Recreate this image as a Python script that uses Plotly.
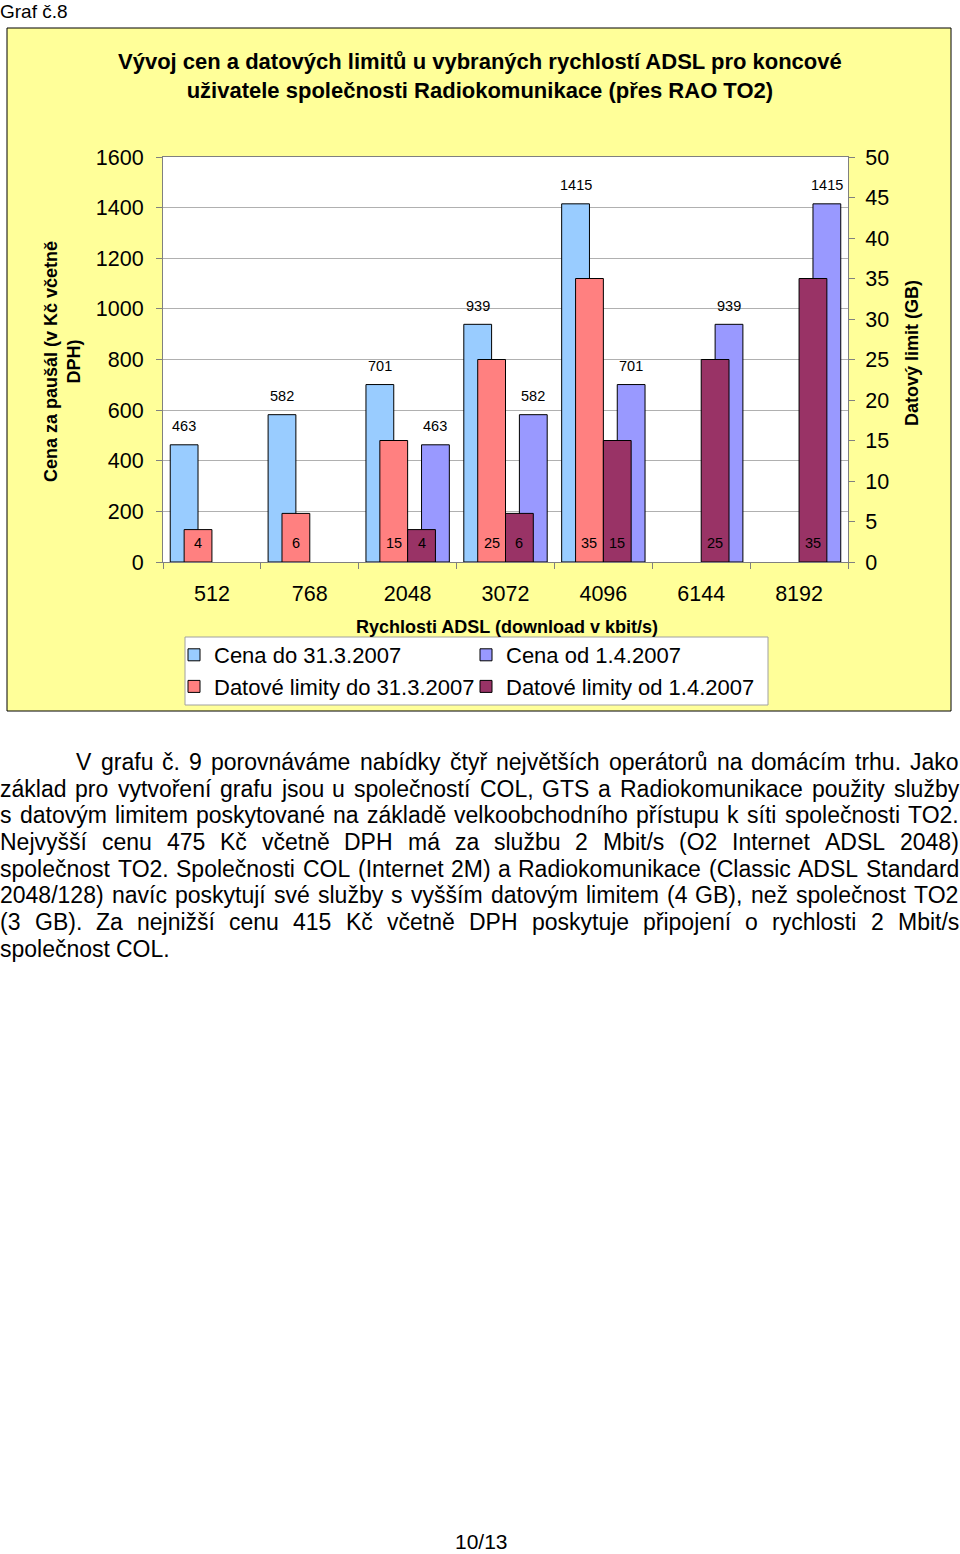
import plotly.graph_objects as go

# ---------------- data ----------------
categories = ["512", "768", "2048", "3072", "4096", "6144", "8192"]
cena_do = [463, 582, 701, 939, 1415, None, None]
cena_od = [None, None, 463, 582, 701, 939, 1415]
limity_do = [4, 6, 15, 25, 35, None, None]
limity_od = [None, None, 4, 6, 15, 25, 35]

series_names = ["Cena do 31.3.2007", "Cena od 1.4.2007",
                "Datové limity do 31.3.2007", "Datové limity od 1.4.2007"]
series_colors = ["#99CCFF", "#9999FF", "#FF8080", "#993366"]

price_range = [0, 1600]
price_dtick = 200
limit_range = [0, 50]
limit_dtick = 5

title_text = ("Vývoj cen a datových limitů u vybraných rychlostí ADSL pro koncové<br>"
              "uživatele společnosti Radiokomunikace (přes RAO TO2)")
y1_title = "Cena za paušál (v Kč včetně<br>DPH)"
y2_title = "Datový limit (GB)"
x_title = "Rychlosti ADSL (download v kbit/s)"
caption = "Graf č.8"
page_no = "10/13"
paragraph_lines = [
    "V grafu č. 9 porovnáváme nabídky čtyř největších operátorů na domácím trhu. Jako",
    "základ pro vytvoření grafu jsou u společností COL, GTS a Radiokomunikace použity služby",
    "s datovým limitem poskytované na základě velkoobchodního přístupu k síti společnosti TO2.",
    "Nejvyšší cenu 475 Kč včetně DPH má za službu 2 Mbit/s (O2 Internet ADSL 2048)",
    "společnost TO2. Společnosti COL (Internet 2M) a Radiokomunikace (Classic ADSL Standard",
    "2048/128) navíc poskytují své služby s vyšším datovým limitem (4 GB), než společnost TO2",
    "(3 GB). Za nejnižší cenu 415 Kč včetně DPH poskytuje připojení o rychlosti 2 Mbit/s",
    "společnost COL.",
]

# ---------------- layout geometry ----------------
W, H = 960, 1554
ML, MR, MT, MB = 163, 112, 157, 992
PW = W - ML - MR
PH = H - MT - MB
FONT = "Liberation Sans, Arial, sans-serif"


def px(x):
    return (x - ML) / PW


def py(y):
    return (H - MB - y) / PH


BW = 0.284
offsets = [-0.426, 0.142, -0.284, 0.0]
values = [cena_do, cena_od, limity_do, limity_od]
axes = ["y", "y", "y2", "y2"]

fig = go.Figure()
for name, vals, col, ax, off in zip(series_names, values, series_colors, axes, offsets):
    fig.add_trace(go.Bar(
        x=categories, y=vals, name=name, yaxis=ax,
        offset=off, width=BW,
        marker=dict(color=col, line=dict(color="#000000", width=1)),
        hoverinfo="skip",
    ))

annotations = []
# data labels
for k, (vals, ax, off) in enumerate(zip(values, axes, offsets)):
    for i, v in enumerate(vals):
        if v is None:
            continue
        if ax == "y":
            annotations.append(dict(x=i + off + BW / 2, y=v, xref="x", yref="y",
                                    text=str(v), showarrow=False, yanchor="middle",
                                    yshift=18.5, font=dict(size=14.5, color="black", family=FONT)))
        else:
            annotations.append(dict(x=i + off + BW / 2, y=0, xref="x", yref="y2",
                                    text=str(v), showarrow=False, yanchor="middle",
                                    yshift=19, font=dict(size=14.5, color="black", family=FONT)))

# titles
annotations.append(dict(x=px(480), y=py(76.5), xref="paper", yref="paper", text=title_text,
                        showarrow=False, xanchor="center", yanchor="middle",
                        font=dict(size=22, color="black", family=FONT, weight="bold")))
annotations.append(dict(x=px(62), y=py(362), xref="paper", yref="paper", text=y1_title,
                        showarrow=False, textangle=-90, xanchor="center", yanchor="middle",
                        font=dict(size=18, color="black", family=FONT, weight="bold")))
annotations.append(dict(x=px(912), y=py(353), xref="paper", yref="paper", text=y2_title,
                        showarrow=False, textangle=-90, xanchor="center", yanchor="middle",
                        font=dict(size=18, color="black", family=FONT, weight="bold")))
annotations.append(dict(x=px(507), y=py(627), xref="paper", yref="paper", text=x_title,
                        showarrow=False, xanchor="center", yanchor="middle",
                        font=dict(size=18, color="black", family=FONT, weight="bold")))
annotations.append(dict(x=px(0), y=py(11), xref="paper", yref="paper", text=caption,
                        showarrow=False, xanchor="left", yanchor="middle", borderpad=0, borderwidth=0,
                        font=dict(size=19, color="black", family=FONT)))
annotations.append(dict(x=px(481), y=py(1541), xref="paper", yref="paper", text=page_no,
                        showarrow=False, xanchor="center", yanchor="middle",
                        borderpad=0, borderwidth=0,
                        font=dict(size=21, color="black", family=FONT)))

# paragraph with justified lines (word widths from Arial metrics)
AW = {" ": 278, "(": 333, ")": 333, ",": 278, ".": 278, "/": 278, "-": 333}
for d in "0123456789":
    AW[d] = 556
AW.update(dict(A=667, B=667, C=722, D=722, E=667, F=611, G=778, H=722, I=278, J=500, K=667,
               L=556, M=833, N=722, O=778, P=667, Q=778, R=722, S=667, T=611, U=722, V=667,
               W=944, X=667, Y=667, Z=611))
AW.update(dict(a=556, b=556, c=500, d=556, e=556, f=278, g=556, h=556, i=222, j=222, k=500,
               l=222, m=833, n=556, o=556, p=556, q=556, r=333, s=500, t=278, u=556, v=500,
               w=722, x=500, y=500, z=500))
AW.update({"á": 556, "č": 500, "é": 556, "ě": 556, "í": 278, "ň": 556, "ó": 556, "ř": 333,
           "š": 500, "ú": 556, "ů": 556, "ý": 500, "ž": 500})
PSIZE = 23


def tw(s):
    return sum(AW.get(ch, 556) for ch in s) * PSIZE / 1000


for k, line in enumerate(paragraph_lines):
    words = line.split(" ")
    left = 76 if k == 0 else 0
    right = 959
    widths = [tw(w_) for w_ in words]
    last = (k == len(paragraph_lines) - 1)
    if last or len(words) < 2:
        gap = tw(" ")
    else:
        gap = max((right - left - sum(widths)) / (len(words) - 1), tw(" ") * 0.6)
    xcur = left
    yc = 762 + 26.7 * k
    for w_, wd in zip(words, widths):
        annotations.append(dict(x=px(xcur), y=py(yc), xref="paper", yref="paper", text=w_,
                                showarrow=False, xanchor="left", yanchor="middle",
                                borderpad=0, borderwidth=0,
                                font=dict(size=PSIZE, color="black", family=FONT)))
        xcur += wd + gap

shapes = [
    dict(type="rect", xref="paper", yref="paper", x0=px(7), x1=px(951), y0=py(711), y1=py(28),
         fillcolor="#FFFF99", line=dict(color="#000000", width=1), layer="below"),
    dict(type="rect", xref="paper", yref="paper", x0=0, x1=1, y0=0, y1=1,
         fillcolor="#FFFFFF", line=dict(width=0), layer="below"),
    dict(type="rect", xref="paper", yref="paper", x0=px(185), x1=px(768), y0=py(705), y1=py(637),
         fillcolor="#FFFFFF", line=dict(color="#A0A0A0", width=1), layer="below"),
]

axis_common = dict(ticks="outside", ticklen=6, tickcolor="#808080", showline=True,
                   linecolor="#808080", linewidth=1,
                   tickfont=dict(size=21.5, color="black", family=FONT))

fig.update_layout(
    width=W, height=H,
    margin=dict(l=ML, r=MR, t=MT, b=MB, pad=0),
    paper_bgcolor="#FFFFFF", plot_bgcolor="#FFFFFF",
    barmode="group",
    font=dict(family=FONT, color="black"),
    xaxis=dict(type="category", range=[-0.5, 6.5], tickson="boundaries", showgrid=False,
               mirror=True, ticklabelstandoff=12, **axis_common),
    yaxis=dict(range=price_range, dtick=price_dtick, showgrid=True, gridcolor="#B0B0B0",
               gridwidth=1, zeroline=False, ticklabelstandoff=8, **axis_common),
    yaxis2=dict(range=limit_range, dtick=limit_dtick, overlaying="y", side="right",
                showgrid=False, zeroline=False, ticklabelstandoff=6, **axis_common),
    legend=dict(orientation="h", x=px(174), y=py(634), xanchor="left", yanchor="top",
                bgcolor="rgba(0,0,0,0)", borderwidth=0,
                font=dict(size=22, color="black", family=FONT),
                entrywidth=247, entrywidthmode="pixels", traceorder="normal"),
    annotations=annotations,
    shapes=shapes,
    showlegend=True,
)

fig.write_html("out.html",
               config={"displayModeBar": False},
               post_script="document.body.style.margin='0';document.body.style.padding='0';")
